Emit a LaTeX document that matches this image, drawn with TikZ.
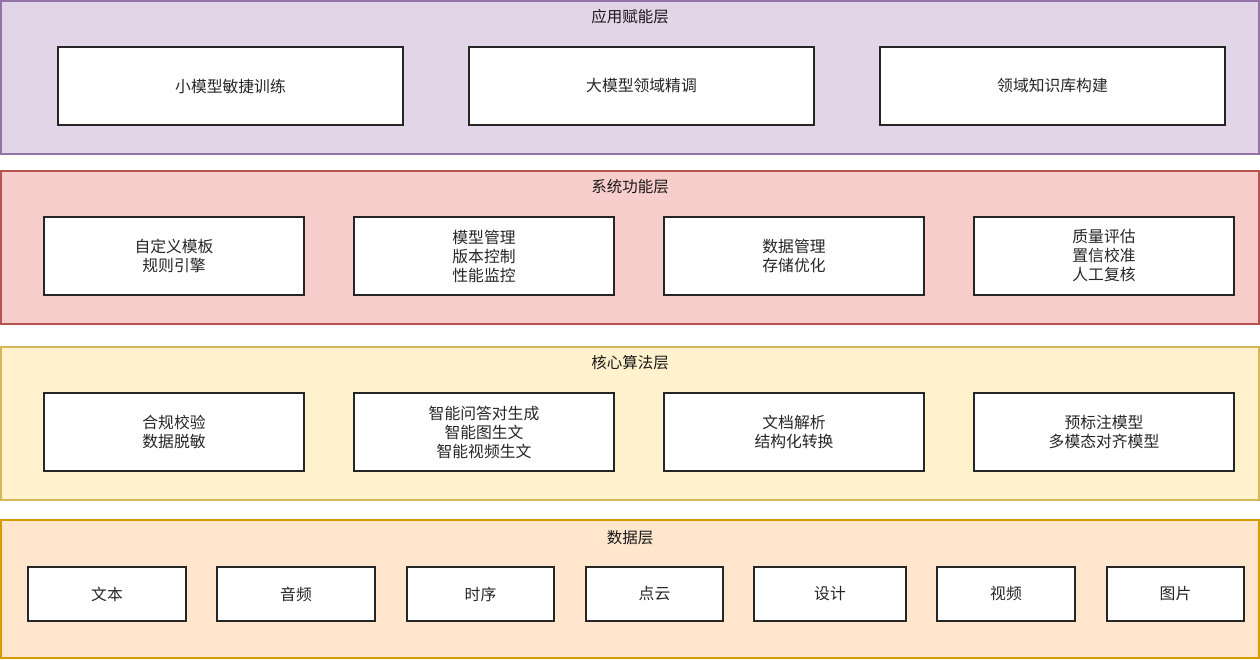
\documentclass[tikz,border=0pt]{standalone}
\usepackage{fontspec}
\setmainfont{Noto Sans CJK SC}
\begin{document}
\begin{tikzpicture}[x=1pt,y=-1pt,
  layer/.style={draw=#1, line width=1.5pt},
  item/.style={draw=black!85, line width=1.8pt, fill=white, align=center, font=\fontsize{15.8}{19}\selectfont, text=black!85},
  ttl/.style={font=\fontsize{15.5}{17}\selectfont, text=black!90}]
\definecolor{pfill}{HTML}{E1D5E7}\definecolor{pdraw}{HTML}{9673A6}
\definecolor{rfill}{HTML}{F8CECC}\definecolor{rdraw}{HTML}{B85450}
\definecolor{yfill}{HTML}{FFF2CC}\definecolor{ydraw}{HTML}{D6B656}
\definecolor{ofill}{HTML}{FFE6CC}\definecolor{odraw}{HTML}{D79B00}
\useasboundingbox[fill=white] (0,0) rectangle (1260,660);
% layers
\draw[layer=pdraw, fill=pfill] (1,1) rectangle (1259,154);
\draw[layer=rdraw, fill=rfill] (1,171) rectangle (1259,324);
\draw[layer=ydraw, fill=yfill] (1,347) rectangle (1259,500);
\draw[layer=odraw, fill=ofill] (1,520) rectangle (1259,658);
\node[ttl] (t1) at (630,17) {应用赋能层};
\node[ttl] (t2) at (630,187) {系统功能层};
\node[ttl] (t3) at (630,363) {核心算法层};
\node[ttl] (t4) at (630,538) {数据层};
% application layer
\newcommand{\itembox}[6]{\node[item, minimum width=#3-#2, minimum height=#5-#4, inner sep=0pt] (#1) at ({(#2+#3)/2},{(#4+#5)/2}) {#6};}
\itembox{a1}{58}{403}{47}{125}{小模型敏捷训练}
\itembox{a2}{469}{814}{47}{125}{大模型领域精调}
\itembox{a3}{880}{1225}{47}{125}{领域知识库构建}
% system layer
\itembox{s1}{44}{304}{217}{295}{自定义模板\\规则引擎}
\itembox{s2}{354}{614}{217}{295}{模型管理\\版本控制\\性能监控}
\itembox{s3}{664}{924}{217}{295}{数据管理\\存储优化}
\itembox{s4}{974}{1234}{217}{295}{质量评估\\置信校准\\人工复核}
% core layer
\itembox{c1}{44}{304}{393}{471}{合规校验\\数据脱敏}
\itembox{c2}{354}{614}{393}{471}{智能问答对生成\\智能图生文\\智能视频生文}
\itembox{c3}{664}{924}{393}{471}{文档解析\\结构化转换}
\itembox{c4}{974}{1234}{393}{471}{预标注模型\\多模态对齐模型}
% data layer
\itembox{d1}{28}{186}{567}{621}{文本}
\itembox{d2}{217}{375}{567}{621}{音频}
\itembox{d3}{407}{554}{567}{621}{时序}
\itembox{d4}{586}{723}{567}{621}{点云}
\itembox{d5}{754}{906}{567}{621}{设计}
\itembox{d6}{937}{1075}{567}{621}{视频}
\itembox{d7}{1107}{1244}{567}{621}{图片}
\end{tikzpicture}
\end{document}
